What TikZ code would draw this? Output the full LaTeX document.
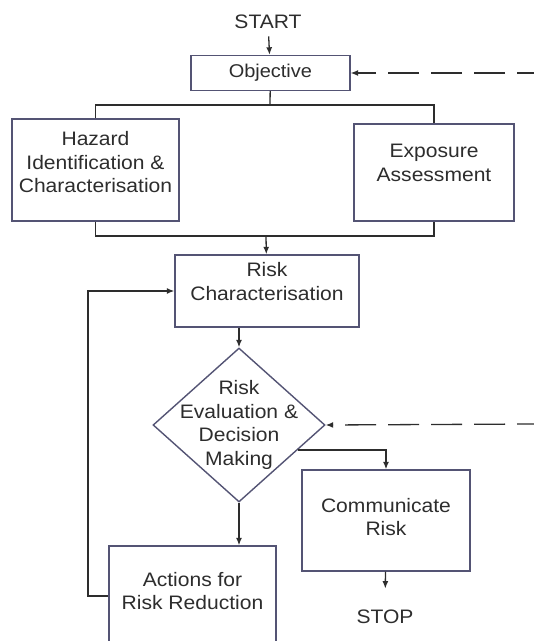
\documentclass[tikz,border=0pt]{standalone}
\usepackage{fontspec}
\setmainfont{Liberation Sans}[FakeStretch=1.08]
\usetikzlibrary{shapes.geometric,arrows.meta}
\definecolor{boxblue}{RGB}{84,84,116}
\definecolor{inkgray}{RGB}{45,45,45}
\begin{document}
\begin{tikzpicture}[x=1pt,y=-1pt,
    font=\fontsize{19.5}{23.5}\selectfont, text=inkgray,
    box/.style={draw=boxblue,line width=1.4pt,fill=white,align=center,inner sep=0pt},
    line/.style={draw=inkgray,line width=1.3pt},
    arr/.style={line,-{Latex[length=7.5pt,width=6pt]}},
    back/.style={arr,dash pattern=on 31pt off 12pt,dash phase=14pt}]
  \useasboundingbox (0,0) rectangle (534,641);
  % boxes
  \node (start) at (268,22) {START};
  \node (obj) [box,minimum width=159pt,minimum height=35pt,font=\fontsize{18.5}{22}\selectfont] at (270.4,73) {Objective};
  \node (haz) [box,minimum width=167pt,minimum height=102pt] at (95.5,170) {Hazard\\Identification \&\\Characterisation\\[-7.5pt]~};
  \node (exp) [box,minimum width=160pt,minimum height=97pt] at (434,172.5) {Exposure\\Assessment\\[-4.5pt]~};
  \node (risk) [box,minimum width=184pt,minimum height=72pt] at (267,291) {Risk\\Characterisation\\[-4.5pt]~};
  \node (dia) [box,shape=diamond,aspect=1.117,minimum width=172pt,minimum height=154pt,inner xsep=-25pt,inner ysep=-12pt] at (239,425) {Risk\\Evaluation \&\\Decision\\Making};
  \node (comm) [box,minimum width=168pt,minimum height=101pt] at (386,520.5) {Communicate\\Risk\\[-16.5pt]~};
  \node (act) [box,minimum width=167pt,minimum height=100pt] at (192.5,596) {Actions for\\Risk Reduction\\[-13.5pt]~};
  \node (stop) at (385,617) {STOP};
  \coordinate (split) at (270,105);
  \coordinate (join) at (266,236);
  \coordinate (fb) at (88,291);
  \coordinate (objin) at (534,73);
  \coordinate (diain) at (534,424);
  % connectors
  \draw[arr,shorten <=4pt] (start) -- (obj);
  \draw[line] (obj) -- (split);
  \draw[line] (haz) |- (split) -| (exp);
  \draw[line] (haz) |- (join) -| (exp);
  \draw[arr] (join) -- (risk);
  \draw[arr] (risk.south -| dia.north) -- (dia);
  \draw[arr] (dia.-23) -| (comm);
  \draw[arr,shorten >=18pt] (comm) -- (stop);
  \draw[arr] (dia) -- (dia |- act.north);
  \draw[arr] (act.west) -| (fb) -- (risk.west);
  % feedback from outside
  \draw[back] (objin) -- (obj.east);
  \draw[back] (diain) -- (dia.east);
\end{tikzpicture}
\end{document}
